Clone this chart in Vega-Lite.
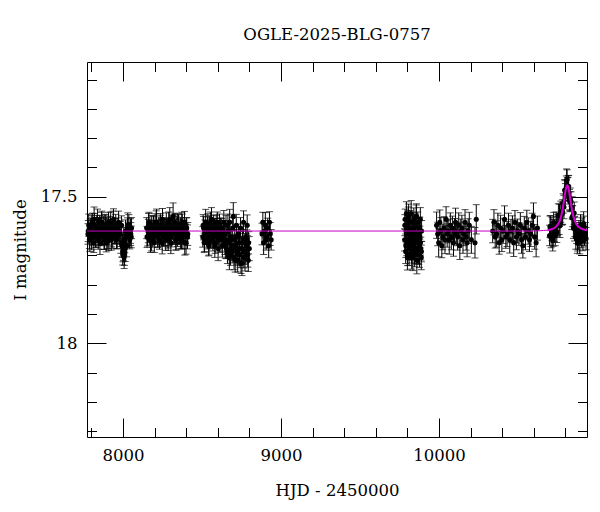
{
"$schema": "https://vega.github.io/schema/vega-lite/v6.json",
"width": 500, "height": 375,
"autosize": {"type": "none"},
"padding": {"left": 87, "top": 62, "right": 13, "bottom": 75},
"background": "white",
"config": {"view": {"stroke": "black", "strokeWidth": 1}, "font": "DejaVu Serif"},
"title": {"text": "OGLE-2025-BLG-0757", "font": "DejaVu Serif", "fontSize": 16.5, "fontWeight": "normal", "color": "black", "anchor": "middle", "offset": 18},
"datasets": {
"obs": [
{"t":7778,"m":17.627,"e":0.035},{"t":7783,"m":17.597,"e":0.038},{"t":7787,"m":17.647,"e":0.030},{"t":7792,"m":17.617,"e":0.041},{"t":7797,"m":17.607,"e":0.034},{"t":7801,"m":17.637,"e":0.044},{"t":7806,"m":17.587,"e":0.031},{"t":7811,"m":17.627,"e":0.037},{"t":7815,"m":17.657,"e":0.033},{"t":7820,"m":17.597,"e":0.040},{"t":7824,"m":17.617,"e":0.029},{"t":7829,"m":17.637,"e":0.036},{"t":7834,"m":17.607,"e":0.043},{"t":7838,"m":17.577,"e":0.035},{"t":7843,"m":17.647,"e":0.032},{"t":7848,"m":17.627,"e":0.039},{"t":7852,"m":17.597,"e":0.034},{"t":7857,"m":17.617,"e":0.046},{"t":7861,"m":17.637,"e":0.030},{"t":7866,"m":17.587,"e":0.038},{"t":7871,"m":17.627,"e":0.035},{"t":7875,"m":17.607,"e":0.041},{"t":7880,"m":17.647,"e":0.033},{"t":7885,"m":17.597,"e":0.037},{"t":7889,"m":17.617,"e":0.044},{"t":7894,"m":17.657,"e":0.031},{"t":7898,"m":17.607,"e":0.036},{"t":7903,"m":17.637,"e":0.040},{"t":7908,"m":17.587,"e":0.034},{"t":7912,"m":17.627,"e":0.038},{"t":7917,"m":17.617,"e":0.032},{"t":7922,"m":17.597,"e":0.045},{"t":7926,"m":17.647,"e":0.035},{"t":7931,"m":17.607,"e":0.030},{"t":7935,"m":17.637,"e":0.039},{"t":7940,"m":17.577,"e":0.036},{"t":7945,"m":17.627,"e":0.033},{"t":7949,"m":17.617,"e":0.042},{"t":7954,"m":17.597,"e":0.037},{"t":7959,"m":17.647,"e":0.031},{"t":7963,"m":17.637,"e":0.040},{"t":7968,"m":17.607,"e":0.035},{"t":7972,"m":17.587,"e":0.038},{"t":7977,"m":17.617,"e":0.034},{"t":7982,"m":17.627,"e":0.043},{"t":7986,"m":17.657,"e":0.036},{"t":7991,"m":17.597,"e":0.032},{"t":7996,"m":17.667,"e":0.039},{"t":8000,"m":17.687,"e":0.035},{"t":8005,"m":17.647,"e":0.041},{"t":8009,"m":17.697,"e":0.037},{"t":8014,"m":17.677,"e":0.044},{"t":8019,"m":17.637,"e":0.033},{"t":8023,"m":17.667,"e":0.038},{"t":8028,"m":17.607,"e":0.035},{"t":8033,"m":17.627,"e":0.040},{"t":8037,"m":17.597,"e":0.036},{"t":8042,"m":17.647,"e":0.031},{"t":8047,"m":17.617,"e":0.042},{"t":8052,"m":17.637,"e":0.037},
{"t":7780,"m":17.617,"e":0.036},{"t":7790,"m":17.647,"e":0.040},{"t":7799,"m":17.597,"e":0.034},{"t":7808,"m":17.627,"e":0.038},{"t":7817,"m":17.577,"e":0.042},{"t":7826,"m":17.637,"e":0.035},{"t":7836,"m":17.617,"e":0.039},{"t":7845,"m":17.607,"e":0.036},{"t":7854,"m":17.657,"e":0.040},{"t":7864,"m":17.587,"e":0.034},{"t":7873,"m":17.627,"e":0.038},{"t":7882,"m":17.637,"e":0.042},{"t":7891,"m":17.597,"e":0.035},{"t":7900,"m":17.617,"e":0.039},{"t":7910,"m":17.647,"e":0.036},{"t":7919,"m":17.607,"e":0.040},{"t":7928,"m":17.637,"e":0.034},{"t":7938,"m":17.587,"e":0.038},{"t":7947,"m":17.617,"e":0.042},{"t":7956,"m":17.627,"e":0.035},{"t":7993,"m":17.667,"e":0.039},{"t":7998,"m":17.697,"e":0.036},{"t":8002,"m":17.677,"e":0.040},{"t":8007,"m":17.707,"e":0.038},{"t":8011,"m":17.657,"e":0.034},{"t":8016,"m":17.617,"e":0.038},{"t":8030,"m":17.597,"e":0.042},{"t":8040,"m":17.637,"e":0.035},{"t":8049,"m":17.627,"e":0.039},{"t":8054,"m":17.607,"e":0.036},
{"t":8150,"m":17.607,"e":0.036},{"t":8155,"m":17.637,"e":0.031},{"t":8160,"m":17.617,"e":0.040},{"t":8164,"m":17.587,"e":0.034},{"t":8169,"m":17.627,"e":0.038},{"t":8174,"m":17.647,"e":0.043},{"t":8179,"m":17.597,"e":0.032},{"t":8184,"m":17.617,"e":0.037},{"t":8188,"m":17.637,"e":0.035},{"t":8193,"m":17.607,"e":0.041},{"t":8198,"m":17.657,"e":0.033},{"t":8203,"m":17.597,"e":0.039},{"t":8207,"m":17.627,"e":0.030},{"t":8212,"m":17.587,"e":0.045},{"t":8217,"m":17.617,"e":0.036},{"t":8222,"m":17.637,"e":0.034},{"t":8227,"m":17.607,"e":0.038},{"t":8231,"m":17.647,"e":0.032},{"t":8236,"m":17.597,"e":0.040},{"t":8241,"m":17.627,"e":0.035},{"t":8246,"m":17.617,"e":0.043},{"t":8250,"m":17.577,"e":0.037},{"t":8255,"m":17.637,"e":0.031},{"t":8260,"m":17.627,"e":0.039},{"t":8265,"m":17.607,"e":0.034},{"t":8270,"m":17.647,"e":0.036},{"t":8274,"m":17.597,"e":0.042},{"t":8279,"m":17.617,"e":0.033},{"t":8284,"m":17.637,"e":0.038},{"t":8289,"m":17.587,"e":0.035},{"t":8293,"m":17.627,"e":0.040},{"t":8298,"m":17.607,"e":0.032},{"t":8303,"m":17.657,"e":0.037},{"t":8308,"m":17.617,"e":0.044},{"t":8313,"m":17.597,"e":0.034},{"t":8317,"m":17.567,"e":0.046},{"t":8322,"m":17.627,"e":0.036},{"t":8327,"m":17.587,"e":0.031},{"t":8332,"m":17.617,"e":0.039},{"t":8336,"m":17.647,"e":0.035},{"t":8341,"m":17.607,"e":0.041},{"t":8346,"m":17.637,"e":0.033},{"t":8351,"m":17.597,"e":0.037},{"t":8356,"m":17.627,"e":0.034},{"t":8360,"m":17.617,"e":0.042},{"t":8365,"m":17.607,"e":0.036},{"t":8370,"m":17.647,"e":0.032},{"t":8375,"m":17.597,"e":0.038},{"t":8379,"m":17.637,"e":0.040},{"t":8384,"m":17.617,"e":0.035},{"t":8389,"m":17.587,"e":0.037},{"t":8394,"m":17.627,"e":0.033},{"t":8399,"m":17.657,"e":0.039},{"t":8403,"m":17.607,"e":0.036},{"t":8408,"m":17.637,"e":0.041},
{"t":8152,"m":17.637,"e":0.036},{"t":8162,"m":17.597,"e":0.040},{"t":8171,"m":17.617,"e":0.034},{"t":8181,"m":17.647,"e":0.038},{"t":8191,"m":17.607,"e":0.042},{"t":8200,"m":17.627,"e":0.035},{"t":8210,"m":17.587,"e":0.039},{"t":8219,"m":17.637,"e":0.036},{"t":8229,"m":17.617,"e":0.040},{"t":8238,"m":17.597,"e":0.034},{"t":8248,"m":17.657,"e":0.038},{"t":8257,"m":17.627,"e":0.042},{"t":8267,"m":17.607,"e":0.035},{"t":8277,"m":17.617,"e":0.039},{"t":8286,"m":17.647,"e":0.036},{"t":8296,"m":17.577,"e":0.040},{"t":8305,"m":17.637,"e":0.034},{"t":8315,"m":17.607,"e":0.038},{"t":8325,"m":17.617,"e":0.042},{"t":8334,"m":17.647,"e":0.035},{"t":8344,"m":17.597,"e":0.039},{"t":8353,"m":17.627,"e":0.036},{"t":8363,"m":17.637,"e":0.040},{"t":8372,"m":17.587,"e":0.034},{"t":8382,"m":17.617,"e":0.038},{"t":8391,"m":17.657,"e":0.042},{"t":8401,"m":17.607,"e":0.035},{"t":8410,"m":17.627,"e":0.039},
{"t":8505,"m":17.637,"e":0.035},{"t":8510,"m":17.607,"e":0.040},{"t":8514,"m":17.657,"e":0.033},{"t":8519,"m":17.617,"e":0.038},{"t":8523,"m":17.587,"e":0.044},{"t":8528,"m":17.627,"e":0.036},{"t":8533,"m":17.647,"e":0.031},{"t":8537,"m":17.597,"e":0.039},{"t":8542,"m":17.667,"e":0.035},{"t":8546,"m":17.607,"e":0.042},{"t":8551,"m":17.617,"e":0.034},{"t":8556,"m":17.637,"e":0.037},{"t":8560,"m":17.577,"e":0.040},{"t":8565,"m":17.627,"e":0.033},{"t":8569,"m":17.647,"e":0.038},{"t":8574,"m":17.597,"e":0.035},{"t":8579,"m":17.617,"e":0.043},{"t":8583,"m":17.657,"e":0.036},{"t":8588,"m":17.607,"e":0.032},{"t":8592,"m":17.637,"e":0.039},{"t":8597,"m":17.587,"e":0.035},{"t":8602,"m":17.677,"e":0.041},{"t":8606,"m":17.627,"e":0.034},{"t":8611,"m":17.597,"e":0.038},{"t":8615,"m":17.617,"e":0.036},{"t":8620,"m":17.647,"e":0.042},{"t":8625,"m":17.607,"e":0.033},{"t":8629,"m":17.667,"e":0.039},{"t":8634,"m":17.637,"e":0.035},{"t":8638,"m":17.587,"e":0.040},{"t":8643,"m":17.627,"e":0.036},{"t":8648,"m":17.667,"e":0.043},{"t":8652,"m":17.597,"e":0.034},{"t":8657,"m":17.647,"e":0.038},{"t":8661,"m":17.687,"e":0.041},{"t":8666,"m":17.617,"e":0.035},{"t":8671,"m":17.657,"e":0.039},{"t":8675,"m":17.587,"e":0.044},{"t":8680,"m":17.697,"e":0.037},{"t":8684,"m":17.637,"e":0.034},{"t":8689,"m":17.677,"e":0.040},{"t":8694,"m":17.607,"e":0.036},{"t":8698,"m":17.567,"e":0.047},{"t":8703,"m":17.707,"e":0.042},{"t":8707,"m":17.647,"e":0.035},{"t":8712,"m":17.667,"e":0.039},{"t":8717,"m":17.597,"e":0.037},{"t":8721,"m":17.687,"e":0.043},{"t":8726,"m":17.717,"e":0.040},{"t":8730,"m":17.627,"e":0.034},{"t":8735,"m":17.657,"e":0.038},{"t":8740,"m":17.697,"e":0.045},{"t":8744,"m":17.607,"e":0.036},{"t":8749,"m":17.677,"e":0.041},{"t":8753,"m":17.727,"e":0.042},{"t":8758,"m":17.647,"e":0.035},{"t":8763,"m":17.587,"e":0.039},{"t":8767,"m":17.687,"e":0.044},{"t":8772,"m":17.707,"e":0.046},{"t":8776,"m":17.637,"e":0.037},{"t":8781,"m":17.667,"e":0.040},{"t":8786,"m":17.597,"e":0.035},{"t":8790,"m":17.697,"e":0.043},{"t":8795,"m":17.657,"e":0.038},{"t":8799,"m":17.677,"e":0.041},
{"t":8507,"m":17.597,"e":0.036},{"t":8516,"m":17.647,"e":0.040},{"t":8526,"m":17.627,"e":0.034},{"t":8535,"m":17.607,"e":0.038},{"t":8544,"m":17.657,"e":0.042},{"t":8553,"m":17.587,"e":0.035},{"t":8563,"m":17.637,"e":0.039},{"t":8572,"m":17.617,"e":0.036},{"t":8581,"m":17.667,"e":0.040},{"t":8590,"m":17.597,"e":0.034},{"t":8600,"m":17.627,"e":0.038},{"t":8609,"m":17.647,"e":0.042},{"t":8618,"m":17.607,"e":0.035},{"t":8627,"m":17.637,"e":0.039},{"t":8636,"m":17.617,"e":0.036},{"t":8645,"m":17.657,"e":0.040},{"t":8655,"m":17.677,"e":0.034},{"t":8664,"m":17.597,"e":0.038},{"t":8673,"m":17.707,"e":0.042},{"t":8682,"m":17.647,"e":0.035},{"t":8691,"m":17.687,"e":0.039},{"t":8701,"m":17.667,"e":0.036},{"t":8710,"m":17.717,"e":0.040},{"t":8719,"m":17.637,"e":0.034},{"t":8728,"m":17.697,"e":0.038},{"t":8737,"m":17.677,"e":0.042},{"t":8747,"m":17.727,"e":0.035},{"t":8756,"m":17.657,"e":0.039},{"t":8765,"m":17.707,"e":0.036},{"t":8774,"m":17.687,"e":0.040},{"t":8784,"m":17.647,"e":0.034},{"t":8793,"m":17.717,"e":0.038},
{"t":8880,"m":17.627,"e":0.037},{"t":8885,"m":17.587,"e":0.034},{"t":8890,"m":17.657,"e":0.040},{"t":8896,"m":17.617,"e":0.036},{"t":8901,"m":17.597,"e":0.043},{"t":8906,"m":17.647,"e":0.035},{"t":8911,"m":17.637,"e":0.038},{"t":8916,"m":17.607,"e":0.034},{"t":8922,"m":17.667,"e":0.041},{"t":8927,"m":17.587,"e":0.036},{"t":8932,"m":17.627,"e":0.039},{"t":8938,"m":17.647,"e":0.035},
{"t":9783,"m":17.647,"e":0.038},{"t":9786,"m":17.577,"e":0.035},{"t":9789,"m":17.687,"e":0.041},{"t":9791,"m":17.617,"e":0.037},{"t":9794,"m":17.557,"e":0.040},{"t":9797,"m":17.667,"e":0.034},{"t":9800,"m":17.707,"e":0.043},{"t":9802,"m":17.597,"e":0.036},{"t":9805,"m":17.657,"e":0.039},{"t":9808,"m":17.567,"e":0.042},{"t":9811,"m":17.697,"e":0.037},{"t":9813,"m":17.627,"e":0.035},{"t":9816,"m":17.587,"e":0.040},{"t":9819,"m":17.677,"e":0.038},{"t":9822,"m":17.637,"e":0.034},{"t":9824,"m":17.557,"e":0.044},{"t":9827,"m":17.687,"e":0.039},{"t":9830,"m":17.647,"e":0.036},{"t":9833,"m":17.607,"e":0.041},{"t":9835,"m":17.707,"e":0.045},{"t":9838,"m":17.667,"e":0.037},{"t":9841,"m":17.577,"e":0.039},{"t":9844,"m":17.617,"e":0.035},{"t":9846,"m":17.697,"e":0.042},{"t":9849,"m":17.597,"e":0.038},{"t":9852,"m":17.677,"e":0.036},{"t":9855,"m":17.647,"e":0.040},{"t":9857,"m":17.567,"e":0.043},{"t":9860,"m":17.717,"e":0.046},{"t":9863,"m":17.627,"e":0.037},{"t":9866,"m":17.587,"e":0.035},{"t":9868,"m":17.687,"e":0.041},{"t":9871,"m":17.657,"e":0.038},{"t":9874,"m":17.607,"e":0.036},{"t":9877,"m":17.697,"e":0.044},{"t":9879,"m":17.637,"e":0.037},{"t":9882,"m":17.577,"e":0.040},{"t":9885,"m":17.677,"e":0.039},{"t":9888,"m":17.707,"e":0.042},{"t":9890,"m":17.617,"e":0.036},
{"t":9784,"m":17.597,"e":0.036},{"t":9790,"m":17.667,"e":0.040},{"t":9795,"m":17.627,"e":0.034},{"t":9801,"m":17.697,"e":0.038},{"t":9806,"m":17.577,"e":0.042},{"t":9812,"m":17.647,"e":0.035},{"t":9817,"m":17.677,"e":0.039},{"t":9823,"m":17.617,"e":0.036},{"t":9828,"m":17.707,"e":0.040},{"t":9834,"m":17.587,"e":0.034},{"t":9839,"m":17.657,"e":0.038},{"t":9845,"m":17.687,"e":0.042},{"t":9850,"m":17.627,"e":0.035},{"t":9856,"m":17.567,"e":0.039},{"t":9861,"m":17.677,"e":0.036},{"t":9867,"m":17.637,"e":0.040},{"t":9872,"m":17.697,"e":0.034},{"t":9878,"m":17.607,"e":0.038},{"t":9883,"m":17.657,"e":0.042},{"t":9889,"m":17.687,"e":0.035},
{"t":9985,"m":17.597,"e":0.045},{"t":9992,"m":17.627,"e":0.040},{"t":9998,"m":17.657,"e":0.048},{"t":10005,"m":17.587,"e":0.042},{"t":10012,"m":17.617,"e":0.046},{"t":10018,"m":17.667,"e":0.041},{"t":10025,"m":17.637,"e":0.044},{"t":10032,"m":17.607,"e":0.039},{"t":10038,"m":17.647,"e":0.047},{"t":10045,"m":17.577,"e":0.043},{"t":10052,"m":17.627,"e":0.045},{"t":10058,"m":17.617,"e":0.040},{"t":10065,"m":17.647,"e":0.049},{"t":10072,"m":17.597,"e":0.042},{"t":10078,"m":17.637,"e":0.044},{"t":10085,"m":17.607,"e":0.041},{"t":10092,"m":17.657,"e":0.046},{"t":10098,"m":17.617,"e":0.043},{"t":10105,"m":17.587,"e":0.048},{"t":10112,"m":17.627,"e":0.040},{"t":10118,"m":17.637,"e":0.045},{"t":10125,"m":17.597,"e":0.042},{"t":10132,"m":17.667,"e":0.047},{"t":10138,"m":17.617,"e":0.041},{"t":10145,"m":17.607,"e":0.044},{"t":10152,"m":17.647,"e":0.046},{"t":10158,"m":17.627,"e":0.040},{"t":10165,"m":17.587,"e":0.043},{"t":10172,"m":17.637,"e":0.045},{"t":10178,"m":17.657,"e":0.048},{"t":10185,"m":17.617,"e":0.042},{"t":10192,"m":17.597,"e":0.044},{"t":10205,"m":17.647,"e":0.046},{"t":10228,"m":17.657,"e":0.052},{"t":10236,"m":17.577,"e":0.050},
{"t":10340,"m":17.617,"e":0.040},{"t":10348,"m":17.587,"e":0.043},{"t":10356,"m":17.637,"e":0.038},{"t":10365,"m":17.627,"e":0.045},{"t":10373,"m":17.597,"e":0.041},{"t":10381,"m":17.657,"e":0.039},{"t":10390,"m":17.607,"e":0.044},{"t":10398,"m":17.647,"e":0.040},{"t":10406,"m":17.617,"e":0.042},{"t":10415,"m":17.577,"e":0.046},{"t":10423,"m":17.637,"e":0.039},{"t":10431,"m":17.627,"e":0.043},{"t":10440,"m":17.597,"e":0.041},{"t":10448,"m":17.647,"e":0.045},{"t":10456,"m":17.617,"e":0.040},{"t":10465,"m":17.607,"e":0.042},{"t":10473,"m":17.657,"e":0.047},{"t":10481,"m":17.587,"e":0.040},{"t":10490,"m":17.637,"e":0.044},{"t":10498,"m":17.617,"e":0.041},{"t":10506,"m":17.627,"e":0.039},{"t":10515,"m":17.597,"e":0.043},{"t":10523,"m":17.647,"e":0.046},{"t":10531,"m":17.667,"e":0.042},{"t":10540,"m":17.607,"e":0.040},{"t":10548,"m":17.637,"e":0.044},{"t":10556,"m":17.587,"e":0.041},{"t":10565,"m":17.617,"e":0.045},{"t":10573,"m":17.647,"e":0.040},{"t":10581,"m":17.627,"e":0.043},{"t":10590,"m":17.597,"e":0.041},{"t":10598,"m":17.567,"e":0.046},{"t":10606,"m":17.637,"e":0.042},{"t":10615,"m":17.657,"e":0.048},{"t":10623,"m":17.607,"e":0.041},
{"t":10700,"m":17.632,"e":0.035},{"t":10705,"m":17.602,"e":0.038},{"t":10710,"m":17.641,"e":0.033},{"t":10715,"m":17.610,"e":0.040},{"t":10720,"m":17.649,"e":0.036},{"t":10726,"m":17.588,"e":0.035},{"t":10731,"m":17.616,"e":0.038},{"t":10736,"m":17.634,"e":0.033},{"t":10741,"m":17.592,"e":0.040},{"t":10746,"m":17.620,"e":0.036},{"t":10751,"m":17.596,"e":0.035},{"t":10756,"m":17.562,"e":0.038},{"t":10761,"m":17.596,"e":0.033},{"t":10766,"m":17.599,"e":0.040},{"t":10771,"m":17.551,"e":0.036},{"t":10776,"m":17.561,"e":0.035},{"t":10781,"m":17.558,"e":0.038},{"t":10786,"m":17.523,"e":0.033},{"t":10791,"m":17.535,"e":0.040},{"t":10796,"m":17.477,"e":0.036},{"t":10801,"m":17.490,"e":0.035},{"t":10806,"m":17.467,"e":0.038},{"t":10811,"m":17.441,"e":0.033},{"t":10816,"m":17.474,"e":0.040},{"t":10821,"m":17.464,"e":0.036},{"t":10826,"m":17.510,"e":0.035},{"t":10831,"m":17.508,"e":0.038},{"t":10836,"m":17.516,"e":0.033},{"t":10841,"m":17.572,"e":0.040},{"t":10846,"m":17.566,"e":0.036},{"t":10851,"m":17.607,"e":0.035},{"t":10856,"m":17.556,"e":0.038},{"t":10861,"m":17.603,"e":0.033},{"t":10866,"m":17.639,"e":0.040},{"t":10871,"m":17.624,"e":0.036},{"t":10876,"m":17.658,"e":0.035},{"t":10881,"m":17.641,"e":0.038},{"t":10886,"m":17.614,"e":0.033},{"t":10891,"m":17.655,"e":0.040},{"t":10896,"m":17.597,"e":0.036},{"t":10901,"m":17.639,"e":0.035},{"t":10906,"m":17.610,"e":0.038},{"t":10911,"m":17.651,"e":0.033},{"t":10916,"m":17.591,"e":0.040},{"t":10921,"m":17.632,"e":0.036},{"t":10926,"m":17.623,"e":0.035},{"t":10931,"m":17.643,"e":0.038},
{"t":10703,"m":17.602,"e":0.036},{"t":10723,"m":17.629,"e":0.040},{"t":10743,"m":17.601,"e":0.034},{"t":10763,"m":17.563,"e":0.038},{"t":10783,"m":17.552,"e":0.042},{"t":10798,"m":17.480,"e":0.035},{"t":10808,"m":17.444,"e":0.039},{"t":10813,"m":17.471,"e":0.036},{"t":10818,"m":17.467,"e":0.040},{"t":10828,"m":17.517,"e":0.034},{"t":10843,"m":17.538,"e":0.038},{"t":10858,"m":17.609,"e":0.042},{"t":10878,"m":17.650,"e":0.035},{"t":10898,"m":17.627,"e":0.039},{"t":10918,"m":17.602,"e":0.036}
],
"model": [
{"t":7772,"m":17.617},{"t":10600,"m":17.617},{"t":10662,"m":17.615},{"t":10687,"m":17.614},{"t":10712,"m":17.611},{"t":10732,"m":17.606},{"t":10742,"m":17.601},{"t":10752,"m":17.595},{"t":10762,"m":17.585},{"t":10772,"m":17.569},{"t":10777,"m":17.558},{"t":10782,"m":17.545},{"t":10787,"m":17.529},{"t":10792,"m":17.511},{"t":10797,"m":17.493},{"t":10802,"m":17.477},{"t":10807,"m":17.465},{"t":10812,"m":17.461},{"t":10817,"m":17.465},{"t":10822,"m":17.477},{"t":10827,"m":17.493},{"t":10832,"m":17.511},{"t":10837,"m":17.529},{"t":10842,"m":17.545},{"t":10847,"m":17.558},{"t":10852,"m":17.569},{"t":10862,"m":17.585},{"t":10872,"m":17.595},{"t":10882,"m":17.601},{"t":10892,"m":17.606},{"t":10912,"m":17.611},{"t":10937,"m":17.614}
]
},
"layer": [
{"data": {"name": "obs"},
 "mark": {"type": "errorbar", "color": "black", "thickness": 1, "ticks": {"size": 7, "thickness": 1, "color": "black"}},
 "encoding": {
  "x": {"field": "t", "type": "quantitative", "scale": {"domain": [7772, 10937], "nice": false, "zero": false}, "axis": null},
  "y": {"field": "m", "type": "quantitative", "scale": {"domain": [17.04, 18.32], "reverse": true, "nice": false, "zero": false}, "axis": null},
  "yError": {"field": "e"}
 }},
{"data": {"name": "obs"},
 "mark": {"type": "circle", "size": 26, "color": "black", "opacity": 1},
 "encoding": {
  "x": {"field": "t", "type": "quantitative", "scale": {"domain": [7772, 10937], "nice": false, "zero": false},
   "axis": {"orient": "bottom", "values": [7800,8000,8200,8400,8600,8800,9000,9200,9400,9600,9800,10000,10200,10400,10600,10800], "format": "d",
    "labelExpr": "datum.value % 1000 === 0 ? datum.label : ''",
    "tickSize": {"condition": {"test": "datum.value % 1000 === 0", "value": -19}, "value": -9.5},
    "tickColor": "black", "tickWidth": 1, "domain": false, "grid": false,
    "labelFont": "DejaVu Serif", "labelFontSize": 16.5, "labelColor": "black", "labelPadding": 29, "labelOverlap": false, "labelFlush": false, "labelBound": false,
    "title": "HJD - 2450000", "titleFont": "DejaVu Serif", "titleFontSize": 16.5, "titleFontWeight": "normal", "titleColor": "black", "titlePadding": 9}},
  "y": {"field": "m", "type": "quantitative", "scale": {"domain": [17.04, 18.32], "reverse": true, "nice": false, "zero": false},
   "axis": {"orient": "left", "values": [17.1,17.2,17.3,17.4,17.5,17.6,17.7,17.8,17.9,18,18.1,18.2,18.3],
    "labelExpr": "round(datum.value*10) % 5 === 0 ? '' + round(datum.value*10)/10 : ''",
    "tickSize": {"condition": {"test": "round(datum.value*10) % 5 === 0", "value": -19}, "value": -9.5},
    "tickColor": "black", "tickWidth": 1, "domain": false, "grid": false,
    "labelFont": "DejaVu Serif", "labelFontSize": 16.5, "labelColor": "black", "labelPadding": 29, "labelOverlap": false, "labelFlush": false, "labelBound": false,
    "title": "I magnitude", "titleFont": "DejaVu Serif", "titleFontSize": 16.5, "titleFontWeight": "normal", "titleColor": "black", "titlePadding": 12}}
 }},
{"data": {"name": "model"},
 "mark": {"type": "line", "color": "#c800c8", "strokeWidth": 1, "interpolate": "monotone"},
 "encoding": {
  "x": {"field": "t", "type": "quantitative", "scale": {"domain": [7772, 10937], "nice": false, "zero": false},
   "axis": {"orient": "top", "values": [7800,8000,8200,8400,8600,8800,9000,9200,9400,9600,9800,10000,10200,10400,10600,10800], "labels": false,
    "tickSize": {"condition": {"test": "datum.value % 1000 === 0", "value": -19}, "value": -9.5},
    "tickColor": "black", "tickWidth": 1, "domain": false, "grid": false, "title": null}},
  "y": {"field": "m", "type": "quantitative", "scale": {"domain": [17.04, 18.32], "reverse": true, "nice": false, "zero": false},
   "axis": {"orient": "right", "values": [17.1,17.2,17.3,17.4,17.5,17.6,17.7,17.8,17.9,18,18.1,18.2,18.3], "labels": false,
    "tickSize": {"condition": {"test": "round(datum.value*10) % 5 === 0", "value": -19}, "value": -9.5},
    "tickColor": "black", "tickWidth": 1, "domain": false, "grid": false, "title": null}}
 }},
{"data": {"name": "model"},
 "transform": [{"filter": "datum.t >= 10680"}],
 "mark": {"type": "line", "color": "#d000d0", "strokeWidth": 2, "interpolate": "monotone"},
 "encoding": {
  "x": {"field": "t", "type": "quantitative", "scale": {"domain": [7772, 10937], "nice": false, "zero": false}, "axis": null},
  "y": {"field": "m", "type": "quantitative", "scale": {"domain": [17.04, 18.32], "reverse": true, "nice": false, "zero": false}, "axis": null}
 }}
],
"resolve": {"axis": {"x": "independent", "y": "independent"}}
}
